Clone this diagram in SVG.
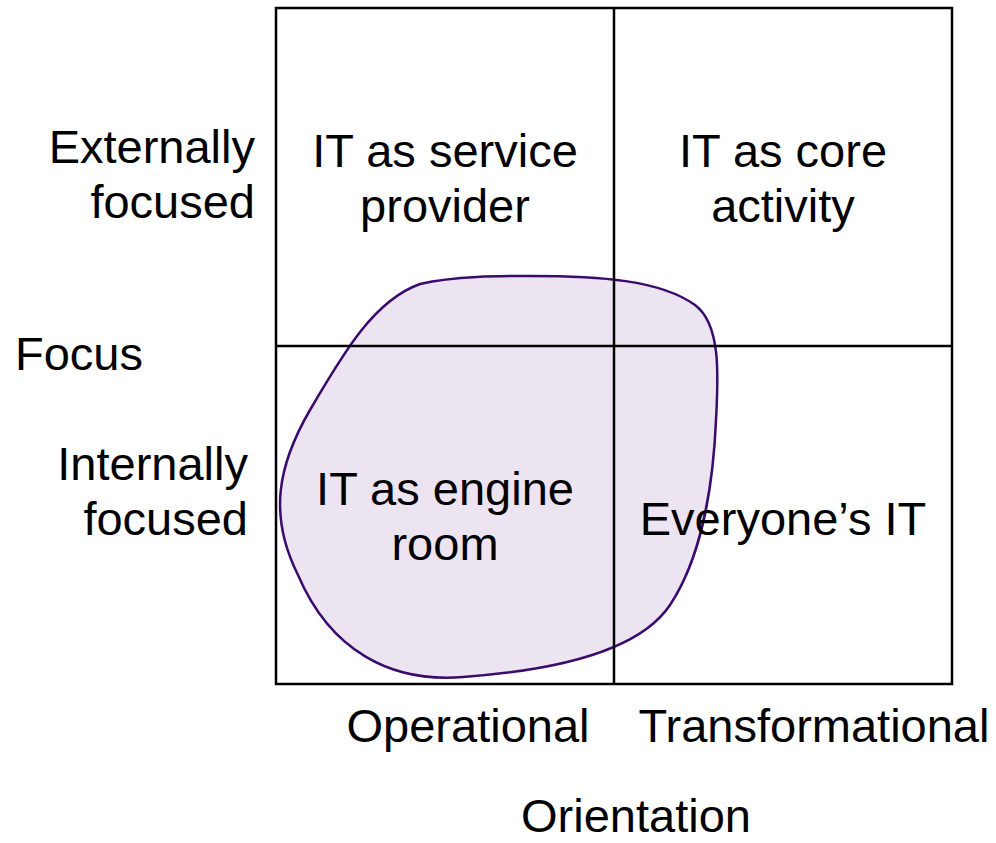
<svg xmlns="http://www.w3.org/2000/svg" width="996" height="843" viewBox="0 0 996 843">
<style>
text{font-family:"Liberation Sans",Arial,sans-serif;font-size:47px;fill:#000}
.c{text-anchor:middle}
.r{text-anchor:end}
.grid{fill:none;stroke:#000;stroke-width:2.5}
</style>
<rect width="996" height="843" fill="#fff"/>
<g id="blob">
<path d="M 530,276 C 600,276 660,280 695,305 C 722,325 718,380 716,420 C 713,490 700,560 670,605 C 640,650 560,670 463,677 C 390,683 330,650 298,575 C 268,515 278,465 310,410 C 345,350 375,300 420,284 C 455,276 500,276 530,276 Z" fill="#ede4f2" stroke="#3a0a6c" stroke-width="2.5"/>
</g>
<g id="grid">
<rect class="grid" x="276" y="8" width="676" height="676"/>
<line class="grid" x1="614" y1="8" x2="614" y2="684"/>
<line class="grid" x1="276" y1="346" x2="952" y2="346"/>
</g>
<g id="q1"><text class="c" x="445" y="167">IT as service</text><text class="c" x="445" y="222">provider</text></g>
<g id="q2"><text class="c" x="783" y="167">IT as core</text><text class="c" x="783" y="222">activity</text></g>
<g id="q3"><text class="c" x="445" y="505">IT as engine</text><text class="c" x="445" y="560">room</text></g>
<g id="q4"><text class="c" x="783" y="535">Everyone’s IT</text></g>
<g id="axis-y">
<text class="r" x="255" y="163">Externally</text><text class="r" x="255" y="218">focused</text>
<text x="15" y="370">Focus</text>
<text class="r" x="248" y="480">Internally</text><text class="r" x="248" y="535">focused</text>
</g>
<g id="axis-x">
<text class="c" x="468" y="742">Operational</text>
<text class="c" x="814" y="742">Transformational</text>
<text class="c" x="636" y="832">Orientation</text>
</g>
</svg>
